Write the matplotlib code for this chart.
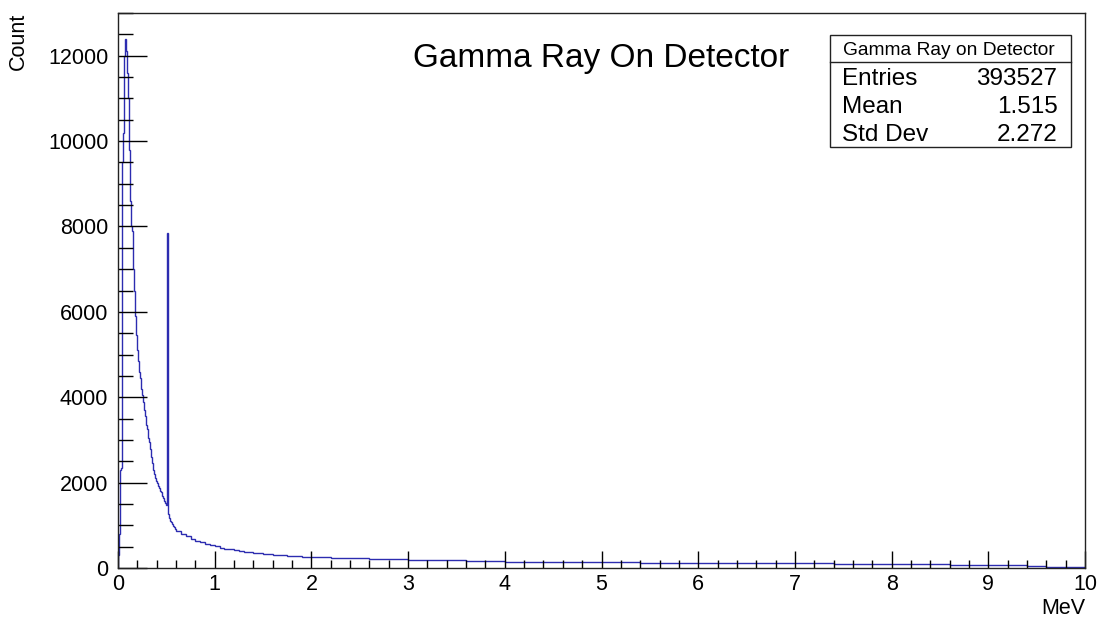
import numpy as np
import matplotlib
matplotlib.use("Agg")
import matplotlib.pyplot as plt
from matplotlib.patches import Rectangle
from matplotlib.lines import Line2D
from matplotlib.ticker import MultipleLocator

plt.rcParams['font.family'] = ['Liberation Sans', 'DejaVu Sans']

# ---- data (counts per 0.01 MeV bin) ----
fine_counts = [300, 800, 2300, 2350, 9500, 10200, 12000, 12400, 12100, 11600,
               11000, 9800, 8600, 8000, 7900, 7300, 7000, 6500, 5900, 5450,
               5100, 4850, 4600, 4450, 4200, 4050, 3900, 3700, 3550, 3350,
               3250, 3050, 2950, 2780, 2600, 2450, 2300, 2200, 2100, 2030,
               1980, 1920, 1870, 1810, 1770, 1730, 1690, 1650, 1580, 1520,
               1480, 7840, 1260, 1180, 1110, 1070, 1020, 980, 950, 910]   # 0.00-0.60, step 0.01
mid_counts = [870, 800, 740, 690, 640, 600, 565, 535, 505, 480,
              455, 435, 415, 400, 385, 370, 360, 350, 335, 325,
              315, 305, 295, 287, 280, 272, 265, 258]                  # 0.60-2.00, step 0.05
tail_counts = [250, 238, 226, 215, 200, 188, 182, 176, 168, 160,
               152, 150, 146, 142, 138, 135, 132, 128, 125, 122,
               125, 122, 120, 118, 115, 110, 108, 105, 102, 98,
               94, 90, 85, 80, 75, 70, 62, 55, 30, 25]                  # 2.00-10.00, step 0.2

fine_edges = np.round(np.arange(0, len(fine_counts) + 1) * 0.01, 4)
mid_edges = np.round(0.60 + np.arange(1, len(mid_counts) + 1) * 0.05, 4)
tail_edges = np.round(2.0 + np.arange(1, len(tail_counts) + 1) * 0.2, 4)
edges = np.concatenate([fine_edges, mid_edges, tail_edges])
counts = np.array(fine_counts + mid_counts + tail_counts, dtype=float)

title = "Gamma Ray On Detector"
stats_title = "Gamma Ray on Detector"
stats_rows = [("Entries", "393527"), ("Mean", "1.515"), ("Std Dev", "2.272")]

# ---- figure ----
W, H = 1106, 619
fig = plt.figure(figsize=(W / 100, H / 100), dpi=100)
L, R, T, B = 118, 1085, 13, 568
ax = fig.add_axes([L / W, 1 - B / H, (R - L) / W, (B - T) / H])

ax.stairs(counts, edges, color='#2c2cb0', linewidth=1.0)

ax.set_xlim(0, 10)
ax.set_ylim(0, 13000)

ax.xaxis.set_major_locator(MultipleLocator(1))
ax.xaxis.set_minor_locator(MultipleLocator(0.2))
ax.yaxis.set_major_locator(MultipleLocator(2000))
ax.yaxis.set_minor_locator(MultipleLocator(500))

ax.tick_params(axis='x', which='major', direction='in', length=12, width=1.0,
               labelsize=15.5, pad=4, top=False)
ax.tick_params(axis='x', which='minor', direction='in', length=6, width=1.0, top=False)
ax.tick_params(axis='y', which='major', direction='in', length=21, width=1.0,
               labelsize=15.5, pad=7, right=False)
ax.tick_params(axis='y', which='minor', direction='in', length=10.5, width=1.0, right=False)
for s in ax.spines.values():
    s.set_linewidth(1.0)
    s.set_color('#222222')

# axis titles
fig.text(1085 / W, 1 - 614 / H, "MeV", ha='right', va='baseline', fontsize=15.5)
fig.text(18 / W, 1 - 13 / H, "Count", ha='center', va='top', rotation=90, fontsize=15.5)

# title
fig.text(601 / W, 1 - 67 / H, title, ha='center', va='baseline', fontsize=24)

# stats box
bx0, bx1, by0, by1 = 829.5, 1070.5, 35, 146.5
def fx(x): return x / W
def fy(y): return 1 - y / H
fig.patches.append(Rectangle((fx(bx0), fy(by1)), fx(bx1) - fx(bx0), fy(by0) - fy(by1),
                             transform=fig.transFigure, facecolor='white',
                             edgecolor='#222222', linewidth=1.0, zorder=5))
fig.lines.append(Line2D([fx(bx0), fx(bx1)], [fy(62.3), fy(62.3)], transform=fig.transFigure,
                        color='#222222', linewidth=1.0, zorder=6))
fig.text(fx(949), fy(55), stats_title, ha='center', va='baseline', fontsize=13.8, zorder=7)
row_base = [85, 112.7, 140.7]
for (k, v), yb in zip(stats_rows, row_base):
    fig.text(fx(841.5), fy(yb), k, ha='left', va='baseline', fontsize=17.5, zorder=7)
    fig.text(fx(1057.5), fy(yb), v, ha='right', va='baseline', fontsize=17.5, zorder=7)

fig.savefig("out.png", dpi=100)
